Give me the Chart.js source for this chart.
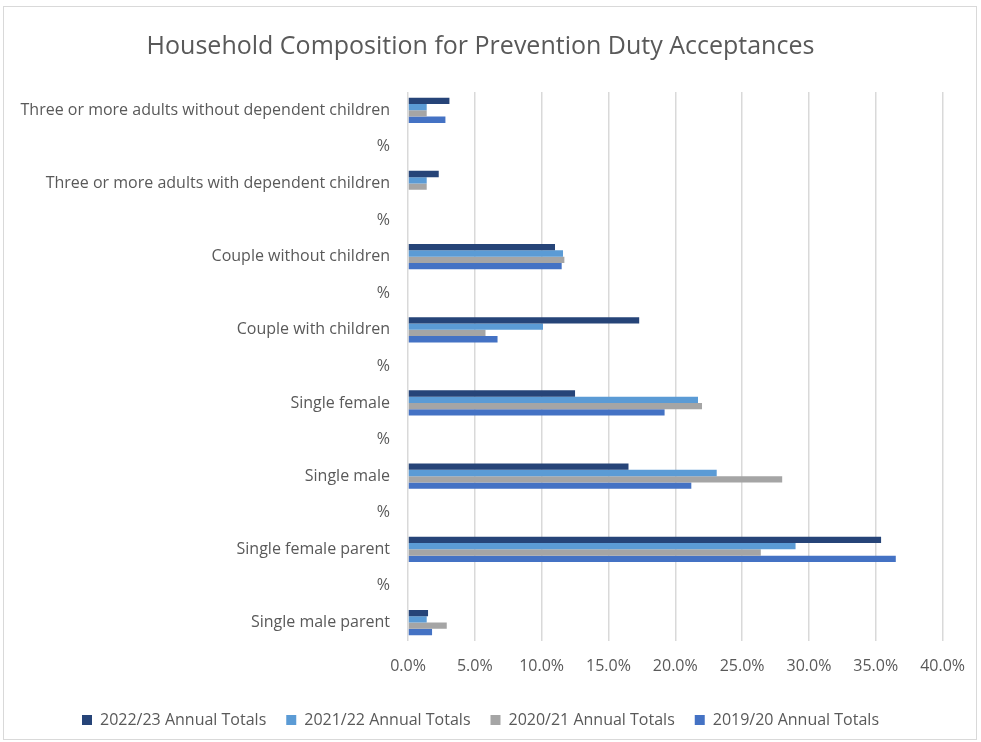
<!DOCTYPE html>
<html>
<head>
<meta charset="utf-8">
<script src="https://cdn.jsdelivr.net/npm/chart.js@4"></script>
<style>
  html, body { margin: 0; padding: 0; background: #fff; }
  #frame { position: absolute; left: 3px; top: 6px; width: 974px; height: 734px; border: 1px solid #d9d9d9; box-sizing: border-box; }
  #chart { position: absolute; left: 0; top: 0; }
</style>
</head>
<body>
<div id="frame"></div>
<canvas id="chart" width="981" height="742"></canvas>
<script>
// Household types, top to bottom; "%" rows are empty spacer categories
const categories = [
  'Three or more adults without dependent children', '%',
  'Three or more adults with dependent children', '%',
  'Couple without children', '%',
  'Couple with children', '%',
  'Single female', '%',
  'Single male', '%',
  'Single female parent', '%',
  'Single male parent'
];

// Share of acceptances (%) per year
const totals2223 = [3.1, null, 2.3, null, 11.0, null, 17.3, null, 12.5, null, 16.5, null, 35.4, null, 1.5];
const totals2122 = [1.4, null, 1.4, null, 11.6, null, 10.1, null, 21.7, null, 23.1, null, 29.0, null, 1.4];
const totals2021 = [1.4, null, 1.4, null, 11.7, null, 5.8, null, 22.0, null, 28.0, null, 26.4, null, 2.9];
const totals1920 = [2.8, null, 0, null, 11.5, null, 6.7, null, 19.2, null, 21.2, null, 36.5, null, 1.8];

const xTicks = [0, 5, 10, 15, 20, 25, 30, 35, 40];

const font = "'Open Sans', 'Noto Sans', sans-serif";
const grey = '#595959';

const ctx = document.getElementById('chart').getContext('2d');

new Chart(ctx, {
  type: 'bar',
  data: {
    labels: categories,
    datasets: [
      { label: '2022/23 Annual Totals', data: totals2223, backgroundColor: '#264478' },
      { label: '2021/22 Annual Totals', data: totals2122, backgroundColor: '#5B9BD5' },
      { label: '2020/21 Annual Totals', data: totals2021, backgroundColor: '#A5A5A5' },
      { label: '2019/20 Annual Totals', data: totals1920, backgroundColor: '#4472C4' }
    ]
  },
  options: {
    responsive: false,
    animation: false,
    indexAxis: 'y',
    layout: { padding: { left: 10, right: 30, top: 12, bottom: 4 } },
    datasets: { bar: { categoryPercentage: 0.69, barPercentage: 1.0 } },
    plugins: {
      title: {
        display: true,
        text: 'Household Composition for Prevention Duty Acceptances',
        color: grey,
        font: { family: font, size: 25, weight: 'normal' },
        padding: { top: 20, bottom: 30 }
      },
      legend: {
        position: 'bottom',
        labels: {
          color: grey,
          font: { family: font, size: 16 },
          boxWidth: 10,
          boxHeight: 10,
          padding: 20
        }
      },
      tooltip: { enabled: false }
    },
    scales: {
      x: {
        min: 0,
        max: 40,
        afterBuildTicks: axis => { axis.ticks = xTicks.map(v => ({ value: v })); },
        ticks: {
          color: grey,
          font: { family: font, size: 16 },
          padding: 16,
          callback: v => v.toFixed(1) + '%'
        },
        grid: { color: '#d9d9d9', lineWidth: 1.5, drawTicks: false },
        border: { display: false }
      },
      y: {
        afterFit: axis => { axis.width = 398; },
        ticks: {
          color: grey,
          font: { family: font, size: 16 },
          padding: 10,
          autoSkip: false
        },
        grid: { display: false },
        border: { display: false }
      }
    }
  }
});
</script>
</body>
</html>
